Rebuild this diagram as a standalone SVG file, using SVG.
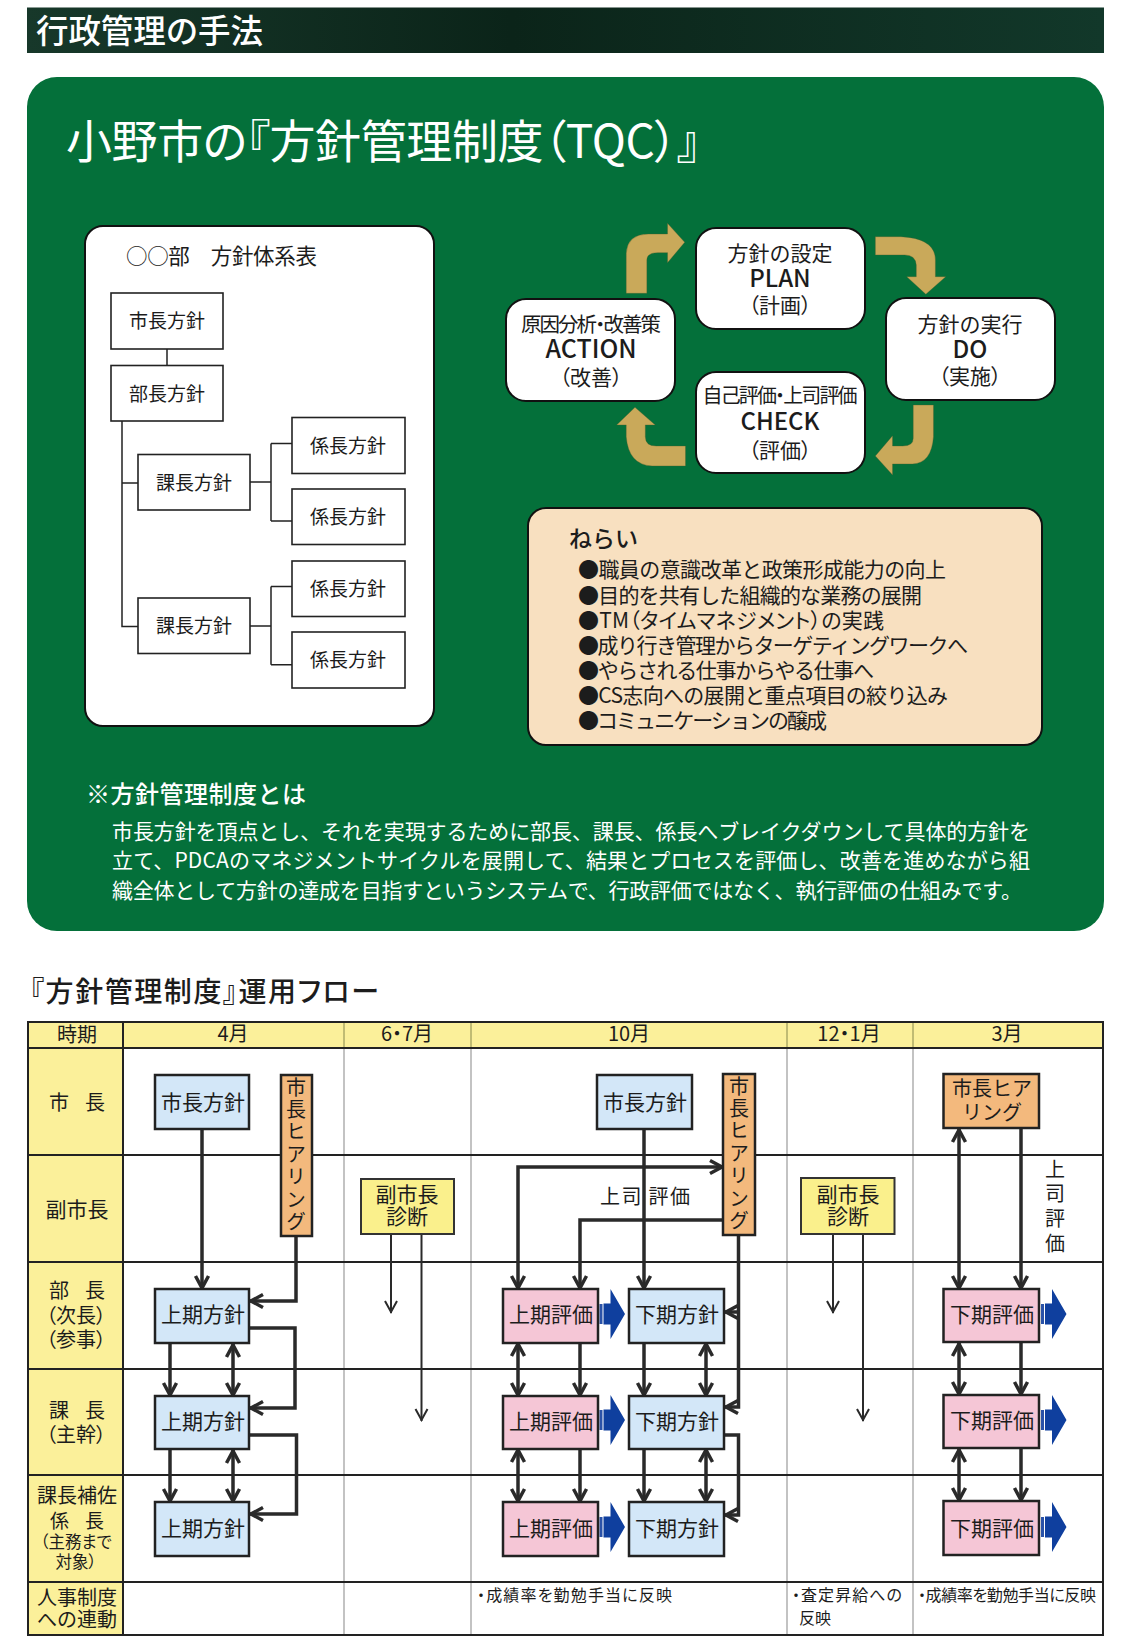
<svg xmlns="http://www.w3.org/2000/svg" xmlns:xlink="http://www.w3.org/1999/xlink" width="1129" height="1648" viewBox="0 0 1129 1648">
<style>
text{font-family:"Noto Sans CJK JP","Noto Sans",sans-serif;fill:#1c1c1c}
.m{text-anchor:middle}
.w{fill:#fff}
.p{font-feature-settings:"palt"}
.md{font-weight:500}
.org{fill:#fff;stroke:#222;stroke-width:1.6}
.card{fill:#fff;stroke:#111;stroke-width:2}
.ol{fill:none;stroke:#222;stroke-width:1.5}
.tan{fill:#c9a95a;stroke:#4a5a2c;stroke-width:1}
.hd{fill:#fbf09a}
.grid{fill:none;stroke:#222;stroke-width:2}
.vl{fill:none;stroke:#aaa;stroke-width:1.4}
.vh{fill:none;stroke:#9a9a5a;stroke-width:1.2}
.bl{fill:#d3e7f8;stroke:#222;stroke-width:2.5}
.pk{fill:#f5c6d6;stroke:#222;stroke-width:2.5}
.or{fill:#f3b97d;stroke:#222;stroke-width:2.5}
.ye{fill:#faf08c;stroke:#333;stroke-width:2}
.c{fill:none;stroke:#2a2a2a;stroke-width:3.5}
.t{fill:none;stroke:#2a2a2a;stroke-width:2}
.f21{font-size:21px}.f20{font-size:20px}.f19{font-size:19px}.f16{font-size:16px}
.v{writing-mode:vertical-rl;text-orientation:upright;letter-spacing:2.4px}
</style>
<defs>
<linearGradient id="barG" x1="0" y1="0" x2="1" y2="0"><stop offset="0" stop-color="#17382a"/><stop offset=".45" stop-color="#0b2419"/><stop offset="1" stop-color="#12382a"/></linearGradient>
<marker id="a" viewBox="-14 -9 16 18" refX="1" refY="0" markerWidth="16" markerHeight="18" markerUnits="userSpaceOnUse" orient="auto-start-reverse" overflow="visible"><path d="M-12,-6.500 L0,0 L-12,6.500" fill="none" stroke="#2a2a2a" stroke-width="3.500"/></marker>
<marker id="s" viewBox="-14 -9 16 18" refX="1" refY="0" markerWidth="16" markerHeight="18" markerUnits="userSpaceOnUse" orient="auto" overflow="visible"><path d="M-11,-6 L0,0 L-11,6" fill="none" stroke="#2a2a2a" stroke-width="2"/></marker>
<g id="ba"><rect x="0" y="-10" width="3" height="20" fill="#2a52a8"/><path d="M4,-10.500 H11 V-25 L25.500,0 L11,25 V10.500 H4 Z" fill="#0f3f9e"/></g>
</defs>
<rect width="1129" height="1648" fill="#fff"/>

<g id="header-bar"><rect x="27" y="7.500" width="1077" height="45.500" fill="url(#barG)"/><text x="36" y="43" class="w md" font-size="32.500" textLength="227">行政管理の手法</text></g>

<g id="panel"><rect x="27" y="77" width="1077" height="854" rx="30" fill="#04703a"/>
<text x="66" y="158" class="w p" font-size="46" textLength="634" lengthAdjust="spacing">小野市の『方針管理制度（TQC）』</text></g>

<g id="org-card"><rect class="card" x="85" y="226" width="349" height="500" rx="18"/><text x="126" y="264" font-size="21.500" textLength="191">○○部　方針体系表</text></g>

<g id="org-connectors">
<path class="ol" d="M167,349V365.500M122,421V626.500H138M122,483H138M250,482H271M271,443.600V521M271,443.600H292M271,521H292M250,626H271M271,586.600V664.700M271,586.600H292M271,664.700H292"/>
</g>
<g id="o1"><rect class="org" x="111" y="293" width="112" height="56"/><text class="m f19" x="167" y="328">市長方針</text></g>
<g id="o2"><rect class="org" x="111" y="365.500" width="112" height="55.500"/><text class="m f19" x="167" y="400.500">部長方針</text></g>
<g id="o3"><rect class="org" x="138" y="454.500" width="112" height="55.500"/><text class="m f19" x="194" y="489.500">課長方針</text></g>
<g id="o4"><rect class="org" x="138" y="598" width="112" height="55.500"/><text class="m f19" x="194" y="633">課長方針</text></g>
<g id="o5"><rect class="org" x="292" y="417.500" width="113" height="56"/><text class="m f19" x="348" y="452.500">係長方針</text></g>
<g id="o6"><rect class="org" x="292" y="489" width="113" height="55.500"/><text class="m f19" x="348" y="524">係長方針</text></g>
<g id="o7"><rect class="org" x="292" y="561" width="113" height="55.500"/><text class="m f19" x="348" y="596">係長方針</text></g>
<g id="o8"><rect class="org" x="292" y="632" width="113" height="56"/><text class="m f19" x="348" y="667">係長方針</text></g>

<g id="cycle-arrows" transform="translate(480 210) scale(.3827 .3333)">
<path class="tan" d="M382,250V130Q385,72 440,72H490V40L535,97L490,158V128H465Q436,128 436,150V250Z"/>
<path class="tan" d="M1033,80H1100Q1190,85 1190,150V200H1217L1165,253L1115,200H1140V165Q1138,135 1110,135H1033Z"/>
<path class="tan" d="M1132,585H1185V680Q1180,760 1130,762H1078V795L1033,738L1078,677V708H1105Q1132,708 1132,685Z"/>
<path class="tan" d="M537,708H460Q432,708 432,680V645H458L405,592L357,645H382V680Q388,765 450,768H537Z"/>
</g>

<g id="plan"><rect class="card" x="696" y="228" width="169" height="101" rx="20"/><text class="m f21" x="780" y="261">方針の設定</text><text class="m md" font-size="24" x="780" y="287">PLAN</text><text class="m f21 p" x="780" y="313">（計画）</text></g>
<g id="do"><rect class="card" x="886" y="298" width="169" height="102" rx="20"/><text class="m f21" x="970" y="332">方針の実行</text><text class="m md" font-size="24" x="970" y="358">DO</text><text class="m f21 p" x="970" y="384">（実施）</text></g>
<g id="action"><rect class="card" x="506" y="299" width="169" height="102" rx="20"/><text class="m p" font-size="20.500" x="591" y="332" textLength="140">原因分析・改善策</text><text class="m md" font-size="25" x="591" y="358">ACTION</text><text class="m f21 p" x="591" y="385">（改善）</text></g>
<g id="check"><rect class="card" x="696" y="372" width="169" height="101" rx="20"/><text class="m p" font-size="20" x="780" y="403" textLength="155">自己評価・上司評価</text><text class="m md" font-size="24" x="780" y="430">CHECK</text><text class="m f21 p" x="780" y="458">（評価）</text></g>

<g id="aims"><rect x="528" y="508" width="514" height="237" rx="18" fill="#f8e0c0" stroke="#111" stroke-width="2"/>
<text x="569" y="547" font-size="23" font-weight="500">ねらい</text>
<text class="f21" x="578" y="577" textLength="368">●職員の意識改革と政策形成能力の向上</text>
<text class="f21" x="578" y="603" textLength="344">●目的を共有した組織的な業務の展開</text>
<text class="f21 p" x="578" y="628" textLength="306">●TM（タイムマネジメント）の実践</text>
<text class="f21" x="578" y="653" textLength="390">●成り行き管理からターゲティングワークへ</text>
<text class="f21" x="578" y="678" textLength="296">●やらされる仕事からやる仕事へ</text>
<text class="f21" x="578" y="703" textLength="370">●CS志向への展開と重点項目の絞り込み</text>
<text class="f21" x="578" y="728" textLength="249">●コミュニケーションの醸成</text></g>

<g id="note"><text class="w md" x="86" y="803" font-size="24" textLength="220">※方針管理制度とは</text>
<text class="w" x="112" y="839" font-size="21" textLength="918">市長方針を頂点とし、それを実現するために部長、課長、係長へブレイクダウンして具体的方針を</text>
<text class="w" x="112" y="868" font-size="21" textLength="918">立て、PDCAのマネジメントサイクルを展開して、結果とプロセスを評価し、改善を進めながら組</text>
<text class="w" x="112" y="898" font-size="21" textLength="910">織全体として方針の達成を目指すというシステムで、行政評価ではなく、執行評価の仕組みです。</text></g>

<text id="flow-title" class="md p" x="30" y="1002" font-size="28" textLength="349">『方針管理制度』運用フロー</text>

<g id="table">
<rect class="hd" x="28" y="1022" width="1075" height="26"/>
<rect class="hd" x="28" y="1048" width="95" height="587"/>
<path class="vh" d="M344,1022V1048M471,1022V1048M787,1022V1048M913,1022V1048"/>
<path class="vl" d="M344,1048V1635M471,1048V1635M787,1048V1635M913,1048V1635"/>
<path class="grid" d="M28,1048H1103M28,1155H1103M28,1262H1103M28,1369H1103M28,1475H1103M28,1582H1103M123,1022V1635"/>
<rect class="grid" x="28" y="1022" width="1075" height="613"/>
<text class="m f20" x="77" y="1042">時期</text>
<text class="m f20" x="233" y="1041">4月</text>
<text class="m f20 p" x="407" y="1041">6・7月</text>
<text class="m f20" x="629" y="1041">10月</text>
<text class="m f20 p" x="849" y="1041">12・1月</text>
<text class="m f20" x="1007" y="1041">3月</text>
<text class="m f20" x="77" y="1110" textLength="56">市　長</text>
<text class="m f21" x="77" y="1217">副市長</text>
<text class="m f20" x="77" y="1298" textLength="56">部　長</text>
<text class="m f20 p" x="76" y="1323">（次長）</text>
<text class="m f20 p" x="76" y="1347">（参事）</text>
<text class="m f20" x="77" y="1418" textLength="56">課　長</text>
<text class="m f20 p" x="76" y="1442">（主幹）</text>
<text class="m f20" x="77" y="1503">課長補佐</text>
<text class="m f19" x="77" y="1528" textLength="54">係　長</text>
<text class="m p" font-size="16.500" x="76" y="1548">（主務まで</text>
<text class="m p" font-size="16.500" x="76" y="1568">対象）</text>
<text class="m f20" x="77" y="1605">人事制度</text>
<text class="m f20" x="77" y="1627">への連動</text>
<text class="f16 p" x="477" y="1601" textLength="195">・成績率を勤勉手当に反映</text>
<text class="f16 p" x="792" y="1601" textLength="110">・査定昇給への</text>
<text class="f16" x="799" y="1624">反映</text>
<text class="f16 p" x="918" y="1601" textLength="178">・成績率を勤勉手当に反映</text>
<text class="m f20" x="645" y="1204" textLength="90">上司 評価</text>
<text class="m f20" x="1055" y="1177">上</text>
<text class="m f20" x="1055" y="1201">司</text>
<text class="m f20" x="1055" y="1226">評</text>
<text class="m f20" x="1055" y="1251">価</text>
</g>

<g id="connectors">
<path class="c" marker-end="url(#a)" d="M202,1129V1289"/>
<path class="c" marker-end="url(#a)" d="M296,1236V1301H250"/>
<path class="c" marker-end="url(#a)" d="M249,1328H295V1408H250"/>
<path class="c" marker-end="url(#a)" d="M249,1435H296.500V1514H250"/>
<path class="c" marker-end="url(#a)" d="M170,1343V1396"/>
<path class="c" marker-end="url(#a)" d="M170,1449V1502"/>
<path class="c" marker-start="url(#a)" marker-end="url(#a)" d="M233,1344V1396"/>
<path class="c" marker-start="url(#a)" marker-end="url(#a)" d="M233,1450V1502"/>
<path class="t" marker-end="url(#s)" d="M391,1234V1313"/>
<path class="t" marker-end="url(#s)" d="M421.500,1234V1421"/>
<path class="c" marker-start="url(#a)" marker-end="url(#a)" d="M723,1167H518V1289"/>
<path class="c" marker-end="url(#a)" d="M723,1220H580V1289"/>
<path class="c" marker-end="url(#a)" d="M644,1129V1289"/>
<path class="c" marker-end="url(#a)" d="M738.500,1235V1407H725"/>
<path class="c" marker-end="url(#a)" d="M738.500,1312H725"/>
<path class="c" marker-end="url(#a)" d="M724,1435H738.500V1515H725"/>
<path class="c" marker-start="url(#a)" marker-end="url(#a)" d="M518,1343V1396"/>
<path class="c" marker-start="url(#a)" marker-end="url(#a)" d="M518,1449V1502"/>
<path class="c" marker-end="url(#a)" d="M580,1343V1396"/>
<path class="c" marker-end="url(#a)" d="M580,1449V1502"/>
<path class="c" marker-end="url(#a)" d="M644,1343V1396"/>
<path class="c" marker-end="url(#a)" d="M644,1449V1502"/>
<path class="c" marker-start="url(#a)" marker-end="url(#a)" d="M706,1343V1396"/>
<path class="c" marker-start="url(#a)" marker-end="url(#a)" d="M706,1449V1502"/>
<path class="t" marker-end="url(#s)" d="M833,1234V1313"/>
<path class="t" marker-end="url(#s)" d="M863,1234V1421"/>
<path class="c" marker-start="url(#a)" marker-end="url(#a)" d="M959,1129V1289"/>
<path class="c" marker-end="url(#a)" d="M1021,1128V1289"/>
<path class="c" marker-start="url(#a)" marker-end="url(#a)" d="M959,1343V1395"/>
<path class="c" marker-start="url(#a)" marker-end="url(#a)" d="M959,1449V1501"/>
<path class="c" marker-end="url(#a)" d="M1021,1342V1395"/>
<path class="c" marker-end="url(#a)" d="M1021,1448V1501"/>
<use xlink:href="#ba" href="#ba" x="599.500" y="1314"/>
<use xlink:href="#ba" href="#ba" x="599.500" y="1420"/>
<use xlink:href="#ba" href="#ba" x="599.500" y="1527"/>
<use xlink:href="#ba" href="#ba" x="1041" y="1314"/>
<use xlink:href="#ba" href="#ba" x="1041" y="1420"/>
<use xlink:href="#ba" href="#ba" x="1041" y="1527"/>
</g>

<g id="n-mayor-apr"><rect class="bl" x="155" y="1075" width="94" height="54"/><text class="m f21" x="203" y="1110">市長方針</text></g>
<g id="n-hear-apr"><rect class="or" x="281" y="1075" width="31" height="161"/><text class="v f20" x="296" y="1077">市長ヒアリング</text></g>
<g id="n-dep-jun"><rect class="ye" x="361" y="1179" width="93" height="55"/><text class="m f21" x="407" y="1202">副市長</text><text class="m f21" x="407" y="1224">診断</text></g>
<g id="n-a1"><rect class="bl" x="155" y="1289" width="94" height="54"/><text class="m f21" x="203" y="1322">上期方針</text></g>
<g id="n-a2"><rect class="bl" x="155" y="1396" width="94" height="53"/><text class="m f21" x="203" y="1429">上期方針</text></g>
<g id="n-a3"><rect class="bl" x="155" y="1502" width="94" height="54"/><text class="m f21" x="203" y="1536">上期方針</text></g>
<g id="n-mayor-oct"><rect class="bl" x="597" y="1075" width="95" height="54"/><text class="m f21" x="645" y="1110">市長方針</text></g>
<g id="n-hear-oct"><rect class="or" x="723" y="1074" width="32" height="161"/><text class="v f20" x="739" y="1076">市長ヒアリング</text></g>
<g id="n-e1"><rect class="pk" x="503" y="1289" width="95" height="54"/><text class="m f21" x="551" y="1322">上期評価</text></g>
<g id="n-e2"><rect class="pk" x="503" y="1396" width="95" height="53"/><text class="m f21" x="551" y="1429">上期評価</text></g>
<g id="n-e3"><rect class="pk" x="503" y="1502" width="95" height="54"/><text class="m f21" x="551" y="1536">上期評価</text></g>
<g id="n-l1"><rect class="bl" x="629" y="1289" width="95" height="54"/><text class="m f21" x="677" y="1322">下期方針</text></g>
<g id="n-l2"><rect class="bl" x="629" y="1396" width="95" height="53"/><text class="m f21" x="677" y="1429">下期方針</text></g>
<g id="n-l3"><rect class="bl" x="629" y="1502" width="95" height="54"/><text class="m f21" x="677" y="1536">下期方針</text></g>
<g id="n-dep-dec"><rect class="ye" x="801" y="1178" width="93.500" height="56"/><text class="m f21" x="848" y="1202">副市長</text><text class="m f21" x="848" y="1224">診断</text></g>
<g id="n-hear-mar"><rect class="or" x="943.500" y="1074" width="95.500" height="54"/><text class="m f20" x="992" y="1096">市長ヒア</text><text class="m f20" x="992" y="1120">リング</text></g>
<g id="n-m1"><rect class="pk" x="943.500" y="1289" width="95.500" height="53"/><text class="m f21" x="992" y="1322">下期評価</text></g>
<g id="n-m2"><rect class="pk" x="943.500" y="1395" width="95.500" height="53"/><text class="m f21" x="992" y="1428">下期評価</text></g>
<g id="n-m3"><rect class="pk" x="943.500" y="1501" width="95.500" height="54"/><text class="m f21" x="992" y="1536">下期評価</text></g>
</svg>
